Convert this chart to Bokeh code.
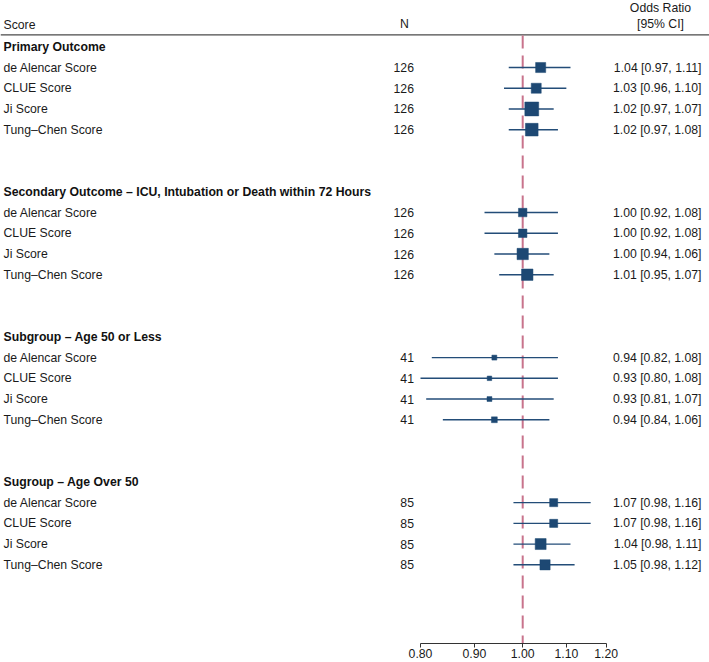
import math

from bokeh.core.properties import value
from bokeh.embed import file_html
from bokeh.models import (ColumnDataSource, FixedTicker, LogAxis, LogScale,
                          PrintfTickFormatter, Range1d)
from bokeh.plotting import figure
from bokeh.resources import INLINE

# ---- data -------------------------------------------------------------
sections = [
    "Primary Outcome",
    "Secondary Outcome – ICU, Intubation or Death within 72 Hours",
    "Subgroup – Age 50 or Less",
    "Sugroup – Age Over 50",
]
scores = ["de Alencar Score", "CLUE Score", "Ji Score", "Tung–Chen Score"]
section_n = [126, 126, 41, 85]

odds_ratio = [1.04, 1.03, 1.02, 1.02,
              1.00, 1.00, 1.00, 1.01,
              0.94, 0.93, 0.93, 0.94,
              1.07, 1.07, 1.04, 1.05]
ci_lower = [0.97, 0.96, 0.97, 0.97,
            0.92, 0.92, 0.94, 0.95,
            0.82, 0.80, 0.81, 0.84,
            0.98, 0.98, 0.98, 0.98]
ci_upper = [1.11, 1.10, 1.07, 1.08,
            1.08, 1.08, 1.06, 1.07,
            1.08, 1.08, 1.07, 1.06,
            1.16, 1.16, 1.11, 1.12]

axis_ticks = [0.80, 0.90, 1.00, 1.10, 1.20]

# ---- layout (pixels) ---------------------------------------------------
W, H = 709, 662
FRAME_BOTTOM = 643          # y of the x axis line
ROW0 = 46.3                 # centre of the first section heading
ROW_STEP = 20.72            # height of one table row
ROWS_PER_SECTION = 7        # heading + 4 scores + 2 blank rows

X_AXIS_LO, X_AXIS_HI = 420.0, 605.7   # pixel span of 0.80 .. 1.20


def row_at(py):
    return (py - ROW0) / ROW_STEP


# log-scaled odds-ratio range stretched across the whole frame width
k = (X_AXIS_HI - X_AXIS_LO) / math.log(axis_ticks[-1] / axis_ticks[0])
or_start = axis_ticks[0] * math.exp(-X_AXIS_LO / k)
or_end = or_start * math.exp(W / k)

y_bottom = row_at(FRAME_BOTTOM)
y_top = row_at(0)

p = figure(width=W, height=H, output_backend="svg", toolbar_location=None,
           x_range=Range1d(0, W), y_range=Range1d(y_bottom, y_top),
           x_axis_location=None, y_axis_location=None,
           min_border=0, min_border_left=0, min_border_right=0,
           min_border_top=0, min_border_bottom=H - FRAME_BOTTOM,
           outline_line_color=None, background_fill_color="white",
           border_fill_color="white")
for g in p.grid:
    g.visible = False

p.extra_x_ranges = {"or": Range1d(or_start, or_end)}
p.extra_x_scales = {"or": LogScale()}

FONT = value("Liberation Sans")
FS = "12.25px"

# ---- table rows --------------------------------------------------------
item_rows, item_labels, n_labels, or_labels = [], [], [], []
head_rows = []
for s, (sec, n) in enumerate(zip(sections, section_n)):
    base = s * ROWS_PER_SECTION
    head_rows.append(base)
    for j, name in enumerate(scores):
        i = s * len(scores) + j
        item_rows.append(base + 1 + j)
        item_labels.append(name)
        n_labels.append(str(n))
        or_labels.append(f"{odds_ratio[i]:.2f} [{ci_lower[i]:.2f}, {ci_upper[i]:.2f}]")

# box size proportional to precision (inverse width of the log CI)
box_size = [1.36 / math.log(hi / lo) for lo, hi in zip(ci_lower, ci_upper)]

src = ColumnDataSource(dict(
    row=item_rows, name=item_labels, n=n_labels, ortxt=or_labels,
    est=odds_ratio, lo=ci_lower, hi=ci_upper, size=box_size,
))

# header
p.segment(x0=0, x1=W, y0=row_at(34.3), y1=row_at(34.3),
          line_color="#4a4a4a", line_width=1.3)
p.text(x=[3], y=[row_at(24)], text=["Score"], text_font=FONT,
       text_font_size=FS, text_baseline="middle", text_align="left",
       text_color="#1a1a1a")
p.text(x=[404], y=[row_at(23)], text=["N"], text_font=FONT,
       text_font_size=FS, text_baseline="middle", text_align="center",
       text_color="#1a1a1a")
p.text(x=[660, 660], y=[row_at(7), row_at(23)],
       text=["Odds Ratio", "[95% CI]"], text_font=FONT,
       text_font_size=FS, text_baseline="middle", text_align="center",
       text_color="#1a1a1a")

# section headings
p.text(x=[3] * len(sections), y=head_rows, text=sections, text_font=FONT,
       text_font_size=FS, text_font_style="bold", text_baseline="middle",
       text_align="left", text_color="#111111")

# score names, N and OR text
p.text(x=3, y="row", text="name", source=src, text_font=FONT,
       text_font_size=FS, text_baseline="middle", text_align="left",
       text_color="#1a1a1a")
p.text(x=413.5, y="row", text="n", source=src, text_font=FONT,
       text_font_size=FS, text_baseline="middle", text_align="right",
       text_color="#1a1a1a")
p.text(x=701, y="row", text="ortxt", source=src, text_font=FONT,
       text_font_size=FS, text_baseline="middle", text_align="right",
       text_color="#1a1a1a")

# ---- forest ------------------------------------------------------------
p.segment(x0=1.0, x1=1.0, y0=row_at(35), y1=y_bottom, x_range_name="or",
          line_color="#c8738c", line_width=2, line_dash="13 7")
p.segment(x0="lo", x1="hi", y0="row", y1="row", source=src,
          x_range_name="or", line_color="#234d78", line_width=1.4)
p.scatter(x="est", y="row", size="size", marker="square", source=src,
          x_range_name="or", fill_color="#1d4873", line_color="#1d4873",
          line_width=0.5)

axis = LogAxis(x_range_name="or", ticker=FixedTicker(ticks=axis_ticks),
               formatter=PrintfTickFormatter(format="%.2f"))
axis.bounds = (axis_ticks[0], axis_ticks[-1])
axis.axis_line_color = "#333333"
axis.major_tick_line_color = "#333333"
axis.major_tick_in = 0
axis.major_tick_out = 4
axis.minor_tick_line_color = None
axis.major_label_standoff = 1
axis.major_label_text_font = "Liberation Sans"
axis.major_label_text_font_size = FS
axis.major_label_text_color = "#1a1a1a"
p.add_layout(axis, "below")

open("out.html", "w").write(file_html(p, INLINE))
